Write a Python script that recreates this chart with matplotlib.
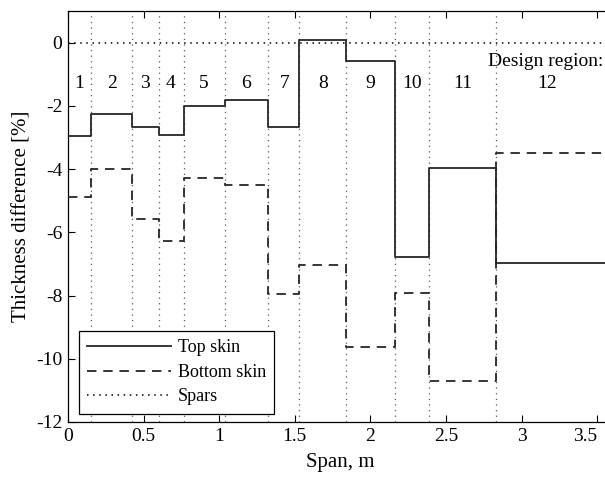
import matplotlib

matplotlib.use("Agg")
import matplotlib.pyplot as plt  # noqa: E402
import numpy as np  # noqa: E402

# region boundaries along the span [m]
edges = [0.0, 0.15, 0.425, 0.60, 0.765, 1.04, 1.32, 1.53, 1.84, 2.16, 2.39, 2.83, 3.6]
# thickness difference per design region [%]
top_skin = [-2.96, -2.27, -2.66, -2.92, -2.00, -1.83, -2.68, 0.09, -0.57, -6.79, -3.95, -6.97]
bottom_skin = [-4.88, -4.00, -5.58, -6.29, -4.28, -4.49, -7.96, -7.02, -9.62, -7.93, -10.70, -3.50]
region_labels = [str(i) for i in range(1, 13)]
label_x = [0.075, 0.29, 0.51, 0.68, 0.90, 1.18, 1.43, 1.69, 2.0, 2.275, 2.61, 3.17]

plt.rcParams["font.family"] = ["Liberation Serif", "DejaVu Serif"]

fig = plt.figure(figsize=(6.05, 4.79), dpi=100)
ax = fig.add_axes([0.1124, 0.119, 0.8997, 0.858])

x = np.array(edges)
top = np.append(top_skin, top_skin[-1])
bot = np.append(bottom_skin, bottom_skin[-1])

for e in edges[1:-1]:
    ax.axvline(e, color="0.35", lw=0.9, ls=(0, (1, 3.5)), zorder=1)
ax.axhline(0, color="black", lw=1.1, ls=(0, (1, 3)), zorder=1)

ax.step(x, top, where="post", color="0.15", lw=1.3, label="Top skin", zorder=3)
ax.step(x, bot, where="post", color="0.15", lw=1.3, dashes=(5.2, 3.8), label="Bottom skin", zorder=3)
ax.plot([], [], color="black", lw=1.1, ls=(0, (1, 3)), label="Spars")

for lx, lab in zip(label_x, region_labels):
    ax.text(lx, -1.3, lab, ha="center", va="center", fontsize=14)
ax.text(3.16, -0.6, "Design region:", ha="center", va="center", fontsize=14)

ax.set_xlim(0, 3.6)
ax.set_ylim(-12, 1)
ax.set_xticks([0, 0.5, 1, 1.5, 2, 2.5, 3, 3.5])
ax.set_xticklabels(["0", "0.5", "1", "1.5", "2", "2.5", "3", "3.5"])
ax.set_yticks([0, -2, -4, -6, -8, -10, -12])
ax.set_yticklabels(["0", "-2", "-4", "-6", "-8", "-10", "-12"])
ax.tick_params(direction="in", top=True, right=True, length=5, width=0.8, labelsize=14, pad=4)
ax.get_xticklabels()[-1].set_ha("right")
for s in ax.spines.values():
    s.set_linewidth(0.9)

ax.set_xlabel("Span, m", fontsize=15, labelpad=6)
ax.set_ylabel("Thickness difference [%]", fontsize=15, labelpad=3)

leg = ax.legend(loc="upper left", bbox_to_anchor=(0.0208, 0.221), borderaxespad=0,
                fontsize=13, handlelength=4.6, handletextpad=0.39, labelspacing=0.42,
                fancybox=False, framealpha=1, edgecolor="black", borderpad=0.45)
leg.get_frame().set_linewidth(0.9)

fig.savefig("out.png", dpi=100)
